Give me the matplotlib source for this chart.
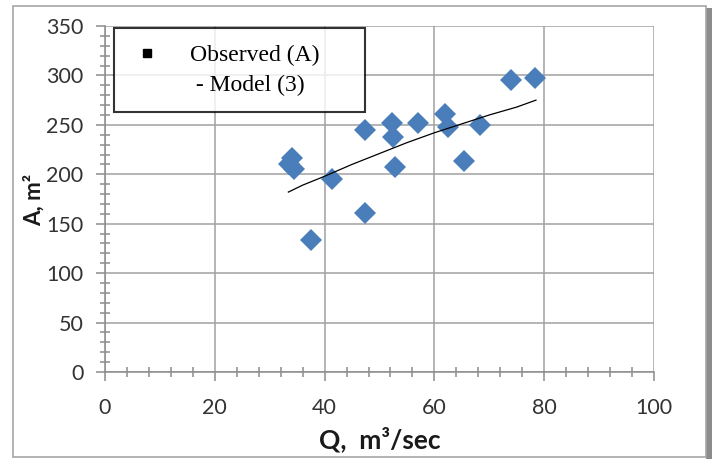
import matplotlib.pyplot as plt
from matplotlib.lines import Line2D
from matplotlib.patches import Rectangle
from matplotlib.ticker import MultipleLocator

# observed data (Q in m3/sec, A in m2)
q_obs = [33.5, 34.0, 34.5, 37.5, 41.4, 47.4, 47.4, 52.2, 52.5, 52.9,
         57.1, 61.9, 62.5, 65.3, 68.3, 73.9, 78.3]
a_obs = [210, 216, 205, 134, 195, 245, 161, 252, 238, 207,
         252, 261, 248, 213, 250, 295, 297]

# model (3) curve
q_mod = [33.4, 36, 40, 45, 50, 55, 60, 65, 70, 75, 78.5]
a_mod = [182, 189, 198, 210, 221, 232, 242, 251, 260, 268, 275]

plt.rcParams['font.family'] = ['Lato', 'DejaVu Sans']

fig = plt.figure(figsize=(7.18, 4.59), dpi=100)
ax = fig.add_axes([0.1462, 0.1895, 0.7647, 0.7539])
ax.set_zorder(2)
ax.patch.set_alpha(0)

# chart frame + shadow
fig.patches.append(Rectangle((706/718, 0), 6/718, 451/459, transform=fig.transFigure,
                             facecolor='#8c8c8c', edgecolor='none', zorder=-2))
fig.patches.append(Rectangle((13/718, 2/459), 693/718, 451/459, transform=fig.transFigure,
                             facecolor='white', edgecolor='#a6a6a6', lw=1.2, zorder=-1))

ax.plot(q_obs, a_obs, 'D', color='#4a7ebb', markersize=11, markeredgewidth=0, zorder=3)
ax.plot(q_mod, a_mod, '-', color='black', lw=0.9, zorder=4)

ax.set_xlim(0, 100)
ax.set_ylim(0, 350)
ax.xaxis.set_major_locator(MultipleLocator(20))
ax.xaxis.set_minor_locator(MultipleLocator(4))
ax.yaxis.set_major_locator(MultipleLocator(50))
ax.yaxis.set_minor_locator(MultipleLocator(10))

ax.grid(True, which='major', color='#a0a0a0', lw=1.1, zorder=0)
ax.set_axisbelow(True)
for s in ['top', 'right']:
    ax.spines[s].set_visible(False)
for s in ['left', 'bottom']:
    ax.spines[s].set_color('#8c8c8c')
    ax.spines[s].set_linewidth(1.1)

ax.tick_params(which='major', direction='out', length=6.5, width=1.1, color='#8c8c8c',
               labelsize=15.5, labelcolor='#333333')
ax.tick_params(axis='y', which='major', pad=9)
ax.tick_params(axis='x', which='major', pad=12)
ax.tick_params(which='minor', direction='inout', length=7.5, width=1.1, color='#8c8c8c')

ax.set_xlabel('Q,  m³/sec', fontsize=19, fontweight='bold', color='#1a1a1a')
ax.set_ylabel('A, m²', fontsize=16, fontweight='bold', color='#1a1a1a')
ax.xaxis.set_label_coords(0.5, -0.156)
ax.yaxis.set_label_coords(-0.11, 0.497)

handles = [Line2D([], [], marker='s', color='black', ls='none', markersize=6),
           Line2D([], [], ls='none')]
leg = ax.legend(handles, ['Observed (A)', ' - Model (3)'], loc='upper left',
                bbox_to_anchor=(0.0164, 0.0, 0.457, 0.994), mode='expand',
                frameon=True, fancybox=False,
                prop={'family': 'Liberation Serif', 'size': 17},
                handlelength=1.36, handletextpad=1.15, borderpad=0.7,
                labelspacing=0.35, borderaxespad=0)
leg.get_frame().set_edgecolor('black')
leg.get_frame().set_linewidth(1.5)
leg.set_zorder(5)

fig.savefig('out.png', dpi=100)
